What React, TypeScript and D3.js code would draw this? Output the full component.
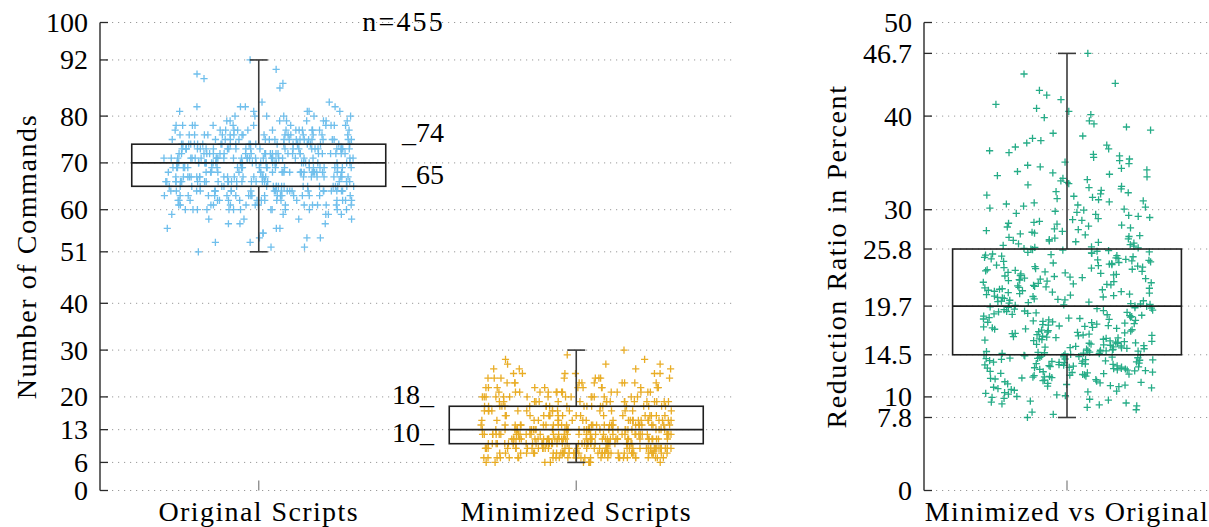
import React from "react";
import * as d3 from "d3";

// ---------- data ----------
const leftCategories = ["Original Scripts", "Minimized Scripts"];
const rightCategories = ["Minimized vs Original"];
const leftTicks = [0, 6, 13, 20, 30, 40, 51, 60, 70, 80, 92, 100];
const rightTicks = [0, 7.8, 10, 14.5, 19.7, 25.8, 30, 40, 46.7, 50];
const sampleSize = 455;

// box statistics: [min, q1, median, q3, max]
const originalStats = [51, 65, 70, 74, 92];
const minimizedStats = [6, 10, 13, 18, 30];
const reductionStats = [7.8, 14.5, 19.7, 25.8, 46.7];

// number of scripts per command count
const originalValues = [51, 52, 53, 54, 55, 56, 57, 58, 59, 60, 61, 62, 63, 64, 65, 66, 67, 68, 69, 70, 71, 72, 73, 74, 75, 76, 77, 78, 79, 80, 81, 82, 83, 84, 85, 86, 87, 88, 89, 90, 91, 92];
const originalCounts = [1, 2, 2, 3, 2, 3, 3, 4, 5, 13, 15, 17, 19, 22, 22, 23, 24, 24, 24, 28, 27, 26, 26, 24, 20, 18, 15, 12, 8, 6, 5, 4, 2, 0, 0, 1, 1, 1, 1, 1, 0, 1];

const minimizedValues = [6, 7, 8, 9, 10, 11, 12, 13, 14, 15, 16, 17, 18, 19, 20, 21, 22, 23, 24, 25, 26, 27, 28, 29, 30];
const minimizedCounts = [10, 28, 35, 40, 38, 38, 36, 34, 26, 22, 18, 15, 20, 18, 16, 14, 12, 10, 8, 6, 4, 3, 2, 1, 1];

// reduction ratio, 1-percent bins starting at value
const reductionBins = [7, 8, 9, 10, 11, 12, 13, 14, 15, 16, 17, 18, 19, 20, 21, 22, 23, 24, 25, 26, 27, 28, 29, 30, 31, 32, 33, 34, 35, 36, 37, 38, 39, 40, 41, 42, 43, 44, 45, 46];
const reductionCounts = [1, 4, 10, 12, 17, 24, 30, 30, 24, 22, 20, 20, 20, 20, 19, 18, 18, 18, 17, 13, 11, 10, 9, 9, 8, 7, 7, 6, 6, 5, 4, 3, 3, 3, 2, 2, 1, 1, 0, 1];

const colors = ["#56B4E9", "#E69F00", "#009E73"];

// ---------- helpers ----------
function hash(i: number, seed: number) {
  const s = Math.sin(i * 12.9898 + seed * 78.233) * 43758.5453;
  return s - Math.floor(s);
}

function expandInteger(values: number[], counts: number[]) {
  const out: number[] = [];
  values.forEach((v, k) => {
    for (let i = 0; i < counts[k]; i++) out.push(v);
  });
  return out;
}

function expandBins(bins: number[], counts: number[], stats: number[]) {
  const out: number[] = [];
  bins.forEach((b, k) => {
    const n = counts[k];
    for (let i = 0; i < n; i++) out.push(b + (i + 0.5) / n);
  });
  out.sort((a, b) => a - b);
  out[0] = stats[0];
  out[out.length - 1] = stats[4];
  return out;
}

const FONT = "'Liberation Serif', 'Times New Roman', serif";
const TXT = "#000";
const AX = "#2a2a2a";

const W = 1209;
const H = 527;
const yTop = 22.5;
const yBottom = 490.5;

type PanelProps = {
  x: d3.ScaleLinear<number, number>;
  y: d3.ScaleLinear<number, number>;
  ticks: number[];
  xEnd: number;
};

function Grid({ x, y, ticks, xEnd }: PanelProps) {
  const x0 = x.range()[0];
  return (
    <g>
      {ticks.map((t) => (
        <line key={"g" + t} x1={x0} x2={xEnd} y1={y(t)} y2={y(t)} stroke="#9a9a9a" strokeWidth={1} strokeDasharray="1.2 4.8" />
      ))}
    </g>
  );
}

function YAxis({ x, y, ticks, fmt }: { x: d3.ScaleLinear<number, number>; y: d3.ScaleLinear<number, number>; ticks: number[]; fmt: (v: number) => string }) {
  const x0 = x.range()[0];
  const [d0, d1] = y.domain();
  return (
    <g>
      <line x1={x0} x2={x0} y1={y(d0)} y2={y(d1)} stroke={AX} strokeWidth={1.4} />
      {ticks.map((t) => (
        <g key={"t" + t}>
          <line x1={x0} x2={x0 + 8} y1={y(t)} y2={y(t)} stroke={AX} strokeWidth={1.3} />
          <text x={x0 - 12} y={y(t)} dy="0.34em" textAnchor="end" fontFamily={FONT} fontSize={28} fill={TXT}>
            {fmt(t)}
          </text>
        </g>
      ))}
    </g>
  );
}

function Box({ cx, x, y, stats }: { cx: number; x: d3.ScaleLinear<number, number>; y: d3.ScaleLinear<number, number>; stats: number[] }) {
  const [mn, q1, md, q3, mx] = stats;
  const xl = x(cx - 0.4);
  const xr = x(cx + 0.4);
  const xc = x(cx);
  const cap = 9;
  return (
    <g fill="none" stroke="#1f1f1f" strokeWidth={1.6}>
      <line x1={xc} x2={xc} y1={y(q3)} y2={y(mx)} stroke="#3a3a3a" />
      <line x1={xc} x2={xc} y1={y(q1)} y2={y(mn)} stroke="#3a3a3a" />
      <line x1={xc - cap} x2={xc + cap} y1={y(mx)} y2={y(mx)} stroke="#3a3a3a" />
      <line x1={xc - cap} x2={xc + cap} y1={y(mn)} y2={y(mn)} stroke="#3a3a3a" />
      <rect x={xl} y={y(q3)} width={xr - xl} height={y(q1) - y(q3)} />
      <line x1={xl} x2={xr} y1={y(md)} y2={y(md)} />
    </g>
  );
}

function Points({ cx, x, y, values, color, seed }: { cx: number; x: d3.ScaleLinear<number, number>; y: d3.ScaleLinear<number, number>; values: number[]; color: string; seed: number }) {
  const a = 3.6;
  const d = `M${-a},0H${a}M0,${-a}V${a}`;
  return (
    <g stroke={color} strokeWidth={1.3} opacity={0.85} fill="none">
      {values.map((v, i) => {
        const jx = (hash(i, seed) - 0.5) * 0.6;
        return <path key={i} d={d} transform={`translate(${x(cx + jx)},${y(v)})`} />;
      })}
    </g>
  );
}

export default function App() {
  const xL = d3.scaleLinear().domain([0.5, 2.5]).range([100, 735]);
  const yL = d3.scaleLinear().domain([0, 100]).range([yBottom, yTop]);
  const xR = d3.scaleLinear().domain([0.5, 1.5]).range([924, 1210]);
  const yR = d3.scaleLinear().domain([0, 50]).range([yBottom, yTop]);

  const original = expandInteger(originalValues, originalCounts);
  const minimized = expandInteger(minimizedValues, minimizedCounts);
  const reduction = expandBins(reductionBins, reductionCounts, reductionStats);

  const fmtInt = (v: number) => d3.format("d")(v);
  const fmtDec = (v: number) => (Number.isInteger(v) ? String(v) : v.toFixed(1));

  return (
    <svg width={W} height={H} style={{ position: "absolute", left: 0, top: 0, background: "#fff" }} xmlns="http://www.w3.org/2000/svg">
      <rect width={W} height={H} fill="#fff" />
      {/* left panel */}
      <Grid x={xL} y={yL} ticks={leftTicks} xEnd={735} />
      {leftCategories.map((c, i) => (
        <g key={c}>
          <line x1={xL(i + 1)} x2={xL(i + 1)} y1={yL(0)} y2={yL(0) - 10} stroke="#888" strokeWidth={1.3} />
          <text x={xL(i + 1)} y={521} textAnchor="middle" fontFamily={FONT} fontSize={28} letterSpacing={1.4} fill={TXT}>
            {c}
          </text>
        </g>
      ))}
      <Points cx={1} x={xL} y={yL} values={original} color={colors[0]} seed={1} />
      <Points cx={2} x={xL} y={yL} values={minimized} color={colors[1]} seed={2} />
      <Box cx={1} x={xL} y={yL} stats={originalStats} />
      <Box cx={2} x={xL} y={yL} stats={minimizedStats} />
      <YAxis x={xL} y={yL} ticks={leftTicks} fmt={fmtInt} />
      <text transform={`translate(36,${(yTop + yBottom) / 2}) rotate(-90)`} textAnchor="middle" fontFamily={FONT} fontSize={28} letterSpacing={1.6} fill={TXT}>
        Number of Commands
      </text>
      <text x={445} y={31} textAnchor="end" fontFamily={FONT} fontSize={28} letterSpacing={2.2} fill={TXT}>
        {`n=${sampleSize}`}
      </text>
      <text x={402} y={yL(originalStats[3]) - 2} fontFamily={FONT} fontSize={28} fill={TXT}>
        {`_${originalStats[3]}`}
      </text>
      <text x={402} y={yL(originalStats[1]) - 2} fontFamily={FONT} fontSize={28} fill={TXT}>
        {`_${originalStats[1]}`}
      </text>
      <text x={434} y={yL(minimizedStats[3]) - 2} textAnchor="end" fontFamily={FONT} fontSize={28} fill={TXT}>
        {`${minimizedStats[3]}_`}
      </text>
      <text x={434} y={yL(minimizedStats[1]) - 2} textAnchor="end" fontFamily={FONT} fontSize={28} fill={TXT}>
        {`${minimizedStats[1]}_`}
      </text>

      {/* right panel */}
      <Grid x={xR} y={yR} ticks={rightTicks} xEnd={1209} />
      {rightCategories.map((c, i) => (
        <g key={c}>
          <line x1={xR(i + 1)} x2={xR(i + 1)} y1={yR(0)} y2={yR(0) - 10} stroke="#888" strokeWidth={1.3} />
          <text x={xR(i + 1)} y={521} textAnchor="middle" fontFamily={FONT} fontSize={28} letterSpacing={1.4} fill={TXT}>
            {c}
          </text>
        </g>
      ))}
      <Points cx={1} x={xR} y={yR} values={reduction} color={colors[2]} seed={3} />
      <Box cx={1} x={xR} y={yR} stats={reductionStats} />
      <YAxis x={xR} y={yR} ticks={rightTicks} fmt={fmtDec} />
      <text transform={`translate(846,${(yTop + yBottom) / 2}) rotate(-90)`} textAnchor="middle" fontFamily={FONT} fontSize={28} letterSpacing={1.6} fill={TXT}>
        Reduction Ratio in Percent
      </text>
    </svg>
  );
}
